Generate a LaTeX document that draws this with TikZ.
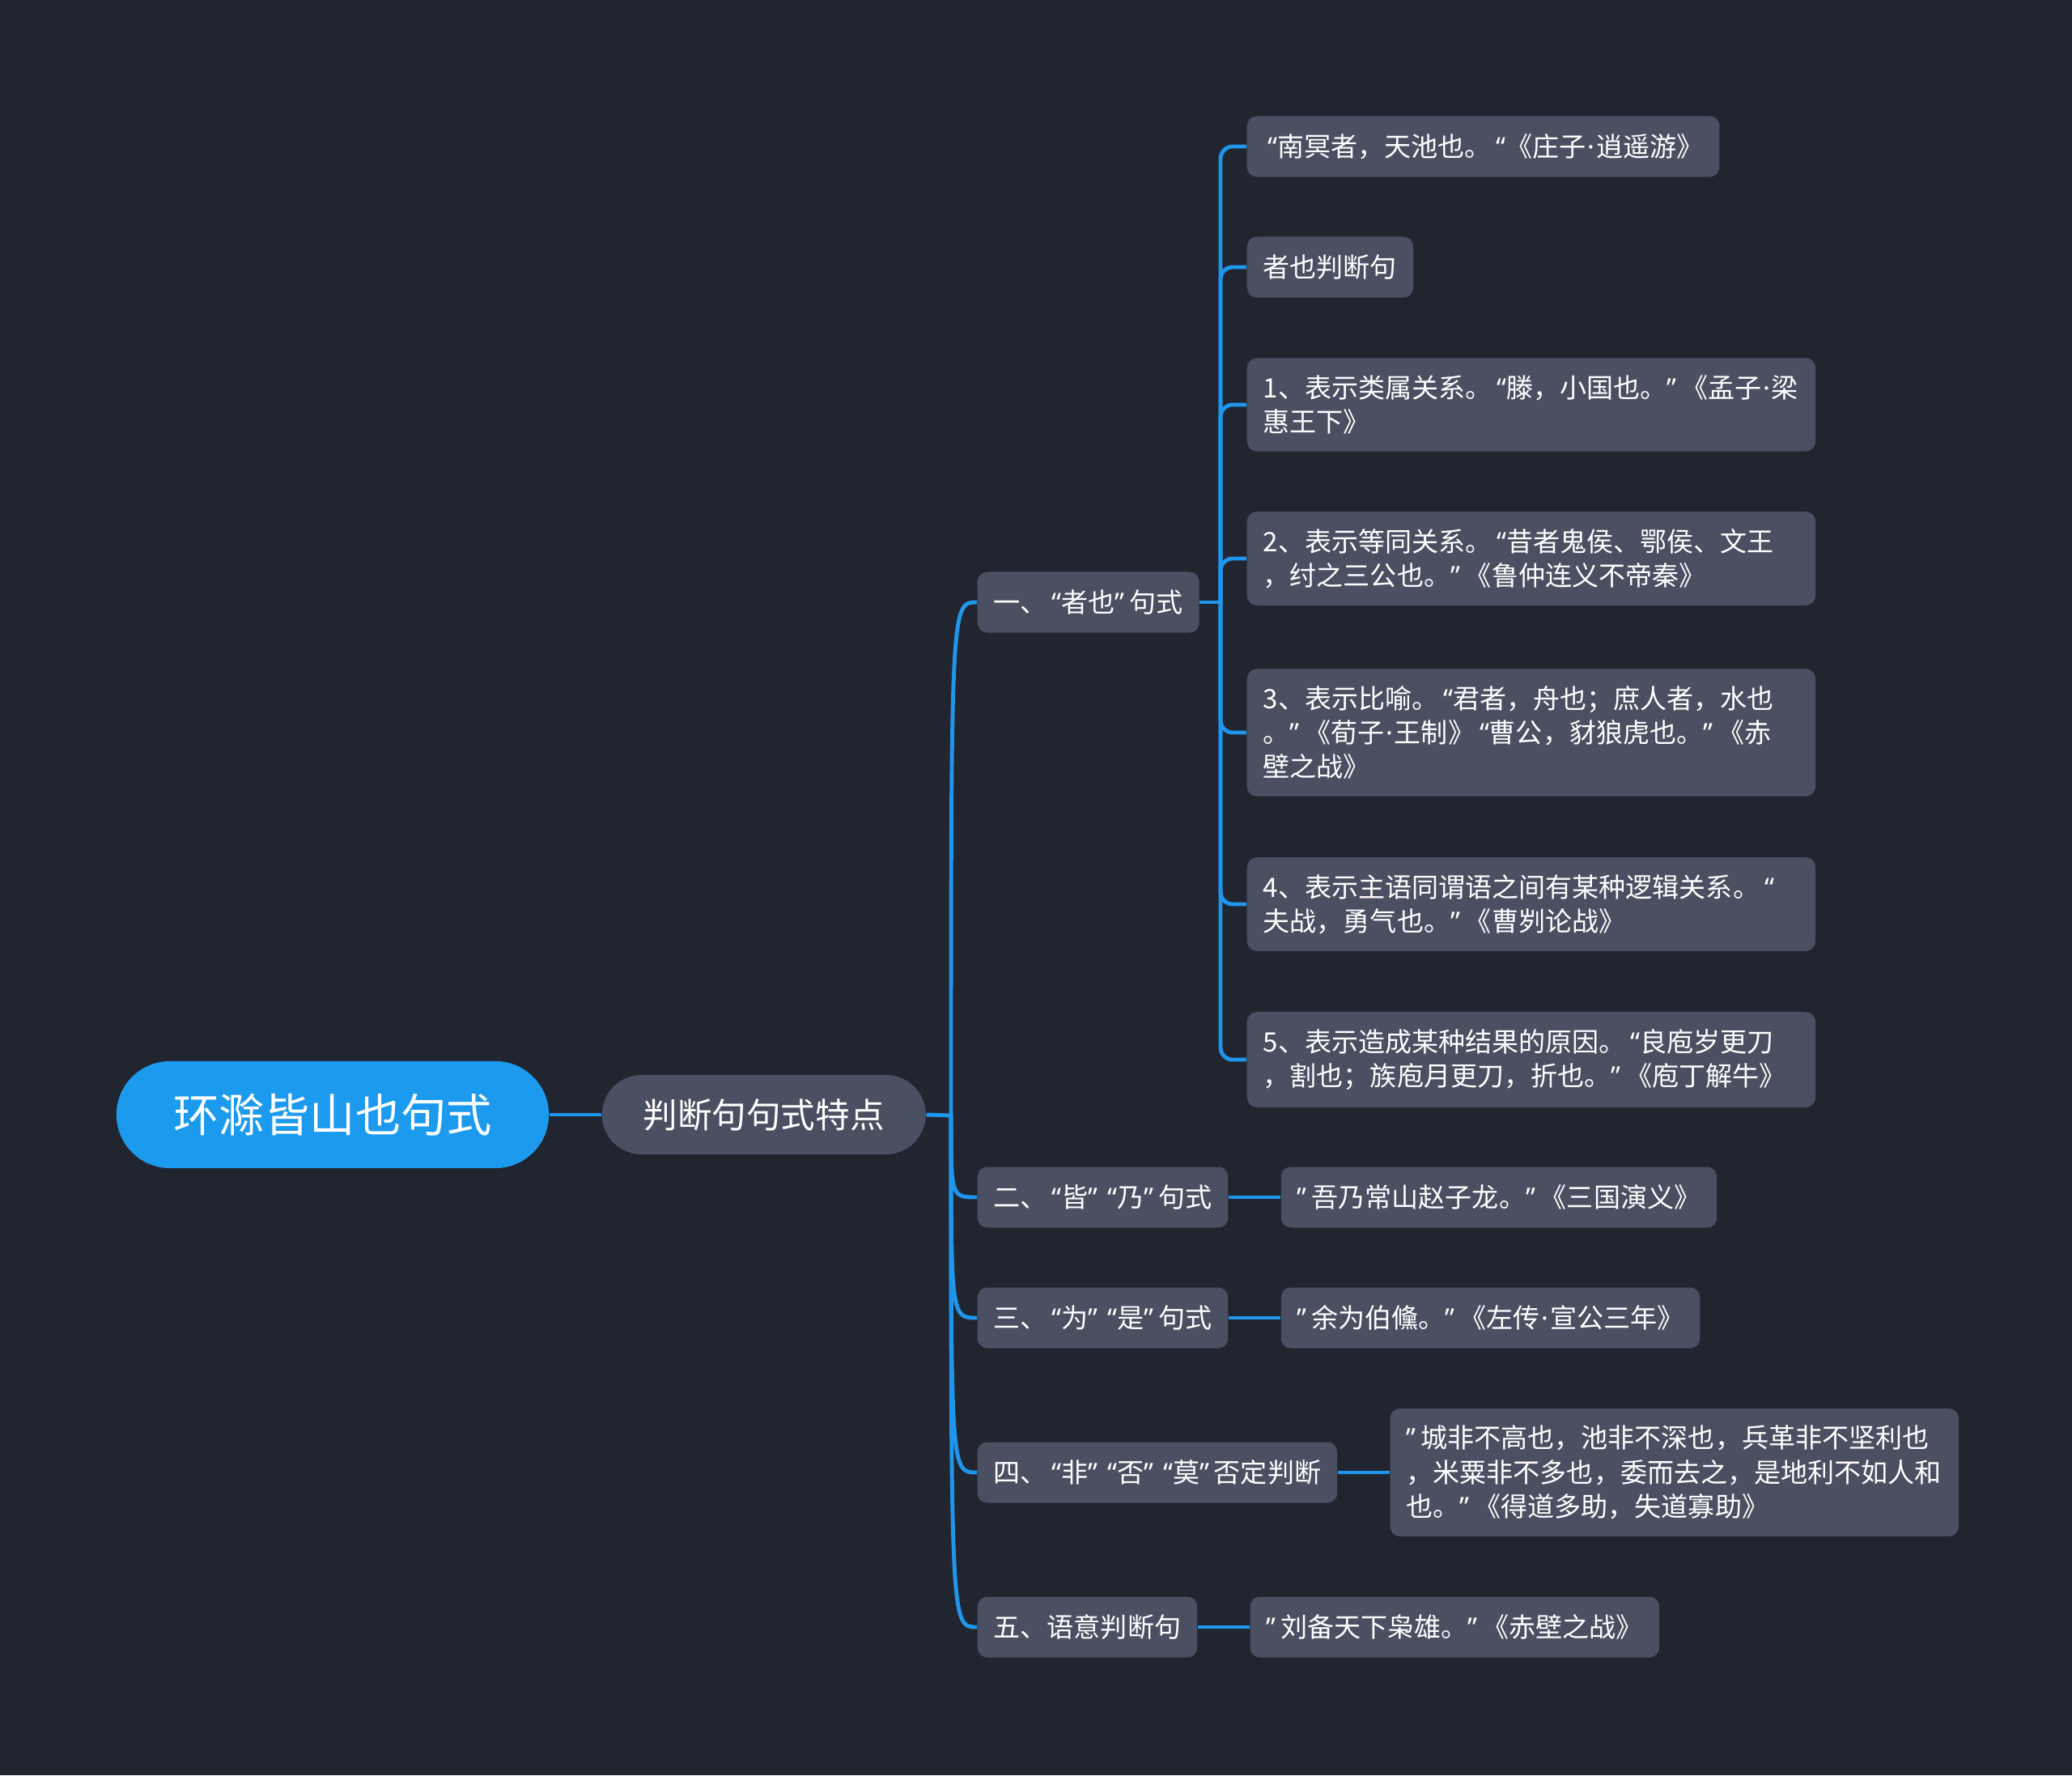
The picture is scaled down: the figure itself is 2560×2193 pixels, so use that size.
\documentclass[tikz,border=0pt]{standalone}
\usepackage{fontspec}
\usepackage{tikz}
\usetikzlibrary{positioning}
\newfontfamily\cjkfont{Noto Sans CJK SC}
\newfontfamily\latinfont{Noto Sans}
\newcommand{\lqt}{{\kern0.18em\latinfont “}}
\newcommand{\rqt}{{\latinfont ”\kern0.18em}}
\newcommand{\mdot}{{\kern0.05em\latinfont ·\kern0.05em}}
\definecolor{bgdark}{HTML}{21252F}
\definecolor{nodegray}{HTML}{4A5061}
\definecolor{rootblue}{HTML}{1C9AEE}
\definecolor{linkblue}{HTML}{2095EC}
\tikzset{rootbox/.style={rounded corners=0.66cm, fill=rootblue, text=white, minimum width=5.34cm, minimum height=1.32cm, font=\cjkfont\fontsize{16}{19}\selectfont}, topicbox/.style={rounded corners=0.49cm, fill=nodegray, text=white, minimum width=4cm, minimum height=0.98cm, font=\cjkfont\fontsize{12.1}{14}\selectfont}, sbox/.style={rounded corners=0.12cm, fill=nodegray, text=white, inner xsep=0.2cm, inner ysep=0.21cm, minimum height=0.75cm, align=left, font=\cjkfont\fontsize{9.4}{12}\selectfont}, wbox/.style={sbox, text width=6.62cm}, link/.style={draw=linkblue, line width=1.4pt}, branch/.style={link, rounded corners=0.15cm}}

\begin{document}
\begin{tikzpicture}[x=0.01cm,y=-0.01cm,node distance=0.64cm]
\fill[bgdark] (0,0) rectangle (2560,2193);
\useasboundingbox (0,0) rectangle (2560,2193);
\node[rootbox] (root) at (411,1377) {环滁皆山也句式};
\node[topicbox,right=of root] (topic) {判断句句式特点};
% second level
\node[sbox,anchor=west] (n1) at (1207,744) {一、\lqt 者也\rqt 句式};
\node[sbox,anchor=west] (n2) at (1207,1479) {二、\lqt 皆\rqt\lqt 乃\rqt 句式};
\node[sbox,anchor=west] (n3) at (1207,1628) {三、\lqt 为\rqt\lqt 是\rqt 句式};
\node[sbox,anchor=west] (n4) at (1207,1819) {四、\lqt 非\rqt\lqt 否\rqt\lqt 莫\rqt 否定判断};
\node[sbox,anchor=west] (n5) at (1207,2010) {五、语意判断句};
% details of the first branch
\node[sbox,anchor=west] (d1) at (1540,181) {\lqt 南冥者，天池也。\lqt《庄子\mdot 逍遥游》};
\node[sbox,anchor=west] (d2) at (1540,330) {者也判断句};
\node[wbox,anchor=west] (d3) at (1540,500) {1、表示类属关系。\lqt 滕，小国也。\rqt《孟子\mdot 梁\\惠王下》};
\node[wbox,anchor=west] (d4) at (1540,690) {2、表示等同关系。\lqt 昔者鬼侯、鄂侯、文王\\，纣之三公也。\rqt《鲁仲连义不帝秦》};
\node[wbox,anchor=west] (d5) at (1540,905) {3、表示比喻。\lqt 君者，舟也；庶人者，水也\\。\rqt《荀子\mdot 王制》\lqt 曹公，豺狼虎也。\rqt《赤\\壁之战》};
\node[wbox,anchor=west] (d6) at (1540,1117) {4、表示主语同谓语之间有某种逻辑关系。\lqt\\夫战，勇气也。\rqt《曹刿论战》};
\node[wbox,anchor=west] (d7) at (1540,1309) {5、表示造成某种结果的原因。\lqt 良庖岁更刀\\，割也；族庖月更刀，折也。\rqt《庖丁解牛》};
% examples
\node[sbox,right=of n2] (e2) {\rqt 吾乃常山赵子龙。\rqt《三国演义》};
\node[sbox,right=of n3] (e3) {\rqt 余为伯儵。\rqt《左传\mdot 宣公三年》};
\node[wbox,right=of n4] (e4) {\rqt 城非不高也，池非不深也，兵革非不坚利也\\，米粟非不多也，委而去之，是地利不如人和\\也。\rqt《得道多助，失道寡助》};
\node[sbox,right=of n5] (e5) {\rqt 刘备天下枭雄。\rqt《赤壁之战》};
% connectors
\coordinate (j1) at (1175,1378);
\coordinate (j2) at (1508,744);
\draw[link] (root.east) -- (topic.west); \draw[link] (topic.east) -- (j1); \draw[link] (n1.east) -- (j2);
\foreach \n in {n1,n2,n3,n4,n5} \draw[link] (j1) .. controls (j1 |- \n.west) .. (\n.west);
\foreach \n in {d1,d2,d3,d4,d5,d6,d7} \draw[branch] (j2) |- (\n.west);
\foreach \n in {2,3,4,5} \draw[link] (n\n.east) -- (e\n.west);
\end{tikzpicture}
\end{document}
